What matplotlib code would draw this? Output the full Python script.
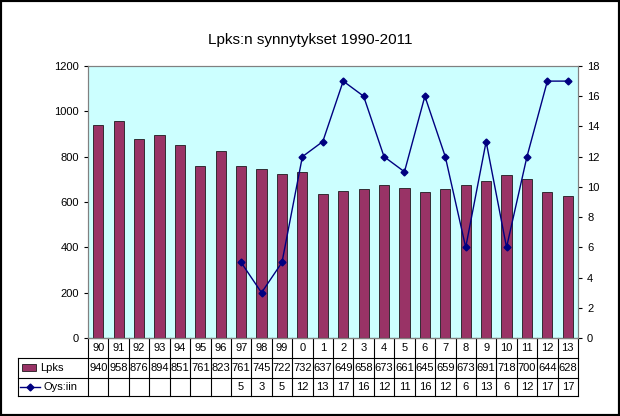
import matplotlib
matplotlib.use("Agg")
import matplotlib.pyplot as plt
import numpy as np
from matplotlib.patches import Rectangle
from matplotlib.lines import Line2D

plt.rcParams["font.family"] = "Liberation Sans"
plt.rcParams["font.size"] = 8

YEARS = ["90", "91", "92", "93", "94", "95", "96", "97", "98", "99", "0", "1",
         "2", "3", "4", "5", "6", "7", "8", "9", "10", "11", "12", "13"]
LPKS = [940, 958, 876, 894, 851, 761, 823, 761, 745, 722, 732, 637,
        649, 658, 673, 661, 645, 659, 673, 691, 718, 700, 644, 628]
OYS_START = 7
OYS = [5, 3, 5, 12, 13, 17, 16, 12, 11, 16, 12, 6, 13, 6, 12, 17, 17]

BAR_COLOR = "#993366"
LINE_COLOR = "#000080"

fig = plt.figure(figsize=(6.2, 4.16), dpi=100)
fig.patch.set_facecolor("white")
fig.add_artist(Rectangle((0, 0), 1, 1, transform=fig.transFigure, fill=False,
                         edgecolor="black", linewidth=3))

ax = fig.add_axes([88 / 620, 78 / 416, 490 / 620, 272 / 416])
ax.set_facecolor("#CCFFFF")
x = np.arange(len(YEARS))
ax.bar(x, LPKS, width=0.5, color=BAR_COLOR, edgecolor="black", linewidth=0.5)
ax.set_xlim(-0.5, len(YEARS) - 0.5)
ax.set_ylim(0, 1200)
ax.set_yticks(range(0, 1201, 200))
ax.set_xticks([])
ax.tick_params(axis="y", length=3)

ax2 = ax.twinx()
xo = np.arange(OYS_START, OYS_START + len(OYS))
ax2.plot(xo, OYS, color=LINE_COLOR, marker="D", markersize=3.5, linewidth=1)
ax2.set_ylim(0, 18)
ax2.set_yticks(range(0, 19, 2))
ax2.tick_params(axis="y", length=3)
for a in (ax, ax2):
    for s in a.spines.values():
        s.set_color("#808080")

fig.text(0.5, 376 / 416, "Lpks:n synnytykset 1990-2011", ha="center", va="center", fontsize=11)

# data table below the plot
tr = ax.transAxes
n = len(YEARS)
row_h = 20 / 272
left = (18 - 88) / 490
cw = 1 / n
rows_y = [0, -row_h, -2 * row_h, -3 * row_h + 2 / 272]
kw = dict(color="black", linewidth=0.8, transform=tr, clip_on=False)
ax.add_line(Line2D([0, 1], [rows_y[0], rows_y[0]], **kw))
for yy in rows_y[1:]:
    ax.add_line(Line2D([left, 1], [yy, yy], **kw))
ax.add_line(Line2D([left, left], [rows_y[1], rows_y[3]], **kw))
for i in range(n + 1):
    ax.add_line(Line2D([i * cw, i * cw], [rows_y[0], rows_y[3]], **kw))

def cy(r):
    return (rows_y[r] + rows_y[r + 1]) / 2

for i in range(n):
    xc = (i + 0.5) * cw
    ax.text(xc, cy(0), YEARS[i], ha="center", va="center", transform=tr)
    ax.text(xc, cy(1), str(LPKS[i]), ha="center", va="center", transform=tr)
for j, v in enumerate(OYS):
    xc = (OYS_START + j + 0.5) * cw
    ax.text(xc, cy(2), str(v), ha="center", va="center", transform=tr)

# legend keys
ax.add_patch(Rectangle((left + 4 / 490, cy(1) - 3 / 272), 14 / 490, 7 / 272, transform=tr,
                       facecolor=BAR_COLOR, edgecolor="black", linewidth=0.5, clip_on=False))
ax.text(left + 22 / 490, cy(1), "Lpks", ha="left", va="center", transform=tr)
ax.add_line(Line2D([left + 2 / 490, left + 22 / 490], [cy(2), cy(2)], color=LINE_COLOR,
                   linewidth=1, transform=tr, clip_on=False))
ax.plot([left + 12 / 490], [cy(2)], marker="D", color=LINE_COLOR, markersize=3.5,
        transform=tr, clip_on=False)
ax.text(left + 26 / 490, cy(2), "Oys:iin", ha="left", va="center", transform=tr)

fig.savefig("out.png", dpi=100)
